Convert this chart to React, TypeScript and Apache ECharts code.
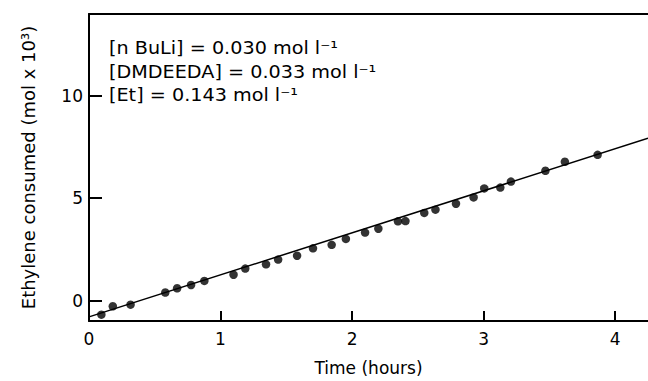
import { useEffect, useRef } from "react";
import * as echarts from "echarts";

const timeHours = [
  0.094, 0.181, 0.316, 0.58, 0.67, 0.776, 0.877, 1.099, 1.188, 1.346, 1.438, 1.582, 1.703,
  1.845, 1.953, 2.099, 2.2, 2.349, 2.406, 2.549, 2.634, 2.79, 2.924, 3.005, 3.127, 3.208,
  3.47, 3.618, 3.867,
];
const ethyleneConsumed = [
  -0.69, -0.28, -0.2, 0.39, 0.6, 0.76, 0.96, 1.26, 1.56, 1.77, 2.0, 2.19, 2.55, 2.72, 3.01,
  3.32, 3.51, 3.87, 3.88, 4.28, 4.44, 4.73, 5.04, 5.48, 5.52, 5.81, 6.34, 6.78, 7.12,
];
const fitTime = [0, 4.25];
const fitEthylene = [-0.8, 7.93];
const xRange = [0, 4.25];
const yRange = [-1, 14];
const yTickRange = [0, 10];
const conditions = [
  "[n BuLi] = 0.030 mol l⁻¹",
  "[DMDEEDA] = 0.033 mol l⁻¹",
  "[Et] = 0.143 mol l⁻¹",
];

const FONT = '"DejaVu Sans", sans-serif';

export default function App() {
  const ref = useRef<HTMLDivElement>(null);
  useEffect(() => {
    if (!ref.current) return;
    const chart = echarts.init(ref.current, null, { renderer: "svg" });
    const black = "#000";
    const gridLeft = 89;
    const gridTop = 14;
    const gridW = 565;
    const gridH = 307;
    const pxPerY = gridH / (yRange[1] - yRange[0]);
    const tickGridTop = gridTop + (yRange[1] - yTickRange[1]) * pxPerY;
    const tickGridH = (yTickRange[1] - yTickRange[0]) * pxPerY;
    const xTickLen = 10;
    const hiddenParts = {
      axisLine: { show: false },
      axisTick: { show: false },
      axisLabel: { show: false },
      splitLine: { show: false },
    };
    chart.setOption({
      animation: false,
      backgroundColor: "#fff",
      grid: [
        // 0: main plotting grid
        { left: gridLeft, top: gridTop, width: gridW, height: gridH },
        // 1: y ticks/labels strip (values 0..10)
        { left: gridLeft, top: tickGridTop, width: gridW, height: tickGridH },
        // 2: bottom strip for x axis line, ticks and labels
        { left: gridLeft, top: gridTop + gridH - xTickLen, width: gridW, height: xTickLen },
        // 3: top strip for the top frame line
        { left: gridLeft, top: gridTop, width: gridW, height: xTickLen },
      ],
      xAxis: [
        { type: "value", gridIndex: 0, min: xRange[0], max: xRange[1], ...hiddenParts },
        { type: "value", gridIndex: 1, min: xRange[0], max: xRange[1], ...hiddenParts },
        {
          type: "value",
          gridIndex: 2,
          min: xRange[0],
          max: xRange[1],
          interval: 1,
          name: "Time (hours)",
          nameLocation: "middle",
          nameGap: 38,
          nameTextStyle: { color: black, fontSize: 17, fontFamily: FONT },
          axisLine: { show: true, lineStyle: { color: black, width: 2 } },
          axisTick: {
            show: true,
            inside: true,
            length: xTickLen,
            lineStyle: { color: black, width: 2 },
          },
          axisLabel: {
            color: black,
            fontSize: 17,
            fontFamily: FONT,
            margin: 9,
            showMaxLabel: false,
          },
          splitLine: { show: false },
        },
        {
          type: "value",
          gridIndex: 3,
          min: xRange[0],
          max: xRange[1],
          axisLine: { show: true, lineStyle: { color: black, width: 2 } },
          axisTick: { show: false },
          axisLabel: { show: false },
          splitLine: { show: false },
        },
      ],
      yAxis: [
        {
          type: "value",
          gridIndex: 0,
          min: yRange[0],
          max: yRange[1],
          name: "Ethylene consumed (mol x 10³)",
          nameLocation: "middle",
          nameGap: 52,
          nameTextStyle: { color: black, fontSize: 18, fontFamily: FONT },
          axisLine: { show: true, lineStyle: { color: black, width: 2 } },
          axisTick: { show: false },
          axisLabel: { show: false },
          splitLine: { show: false },
        },
        {
          type: "value",
          gridIndex: 1,
          min: yTickRange[0],
          max: yTickRange[1],
          interval: 5,
          axisLine: { show: false },
          axisTick: {
            show: true,
            inside: true,
            length: 13,
            lineStyle: { color: black, width: 2 },
          },
          axisLabel: { color: black, fontSize: 17, fontFamily: FONT, margin: 6 },
          splitLine: { show: false },
        },
        { type: "value", gridIndex: 2, min: 0, max: 1, ...hiddenParts },
        { type: "value", gridIndex: 3, min: -1, max: 0, ...hiddenParts },
      ],
      graphic: conditions.map((t, i) => ({
        type: "text",
        x: 109,
        y: 48 + i * 23.5,
        scaleX: 1.13,
        style: {
          text: t,
          fontSize: 17,
          fontFamily: FONT,
          fill: black,
          verticalAlign: "middle",
        },
      })),
      series: [
        {
          type: "line",
          xAxisIndex: 0,
          yAxisIndex: 0,
          data: fitTime.map((t, i) => [t, fitEthylene[i]]),
          symbol: "none",
          lineStyle: { color: black, width: 1.5 },
          z: 2,
        },
        {
          type: "scatter",
          xAxisIndex: 0,
          yAxisIndex: 0,
          data: timeHours.map((t, i) => [t, ethyleneConsumed[i]]),
          symbol: "circle",
          symbolSize: 8.5,
          itemStyle: { color: black },
          z: 3,
        },
      ],
    });
    return () => chart.dispose();
  }, []);
  return (
    <div
      ref={ref}
      style={{ position: "fixed", left: 0, top: 0, width: 648, height: 381, background: "#fff" }}
    />
  );
}
